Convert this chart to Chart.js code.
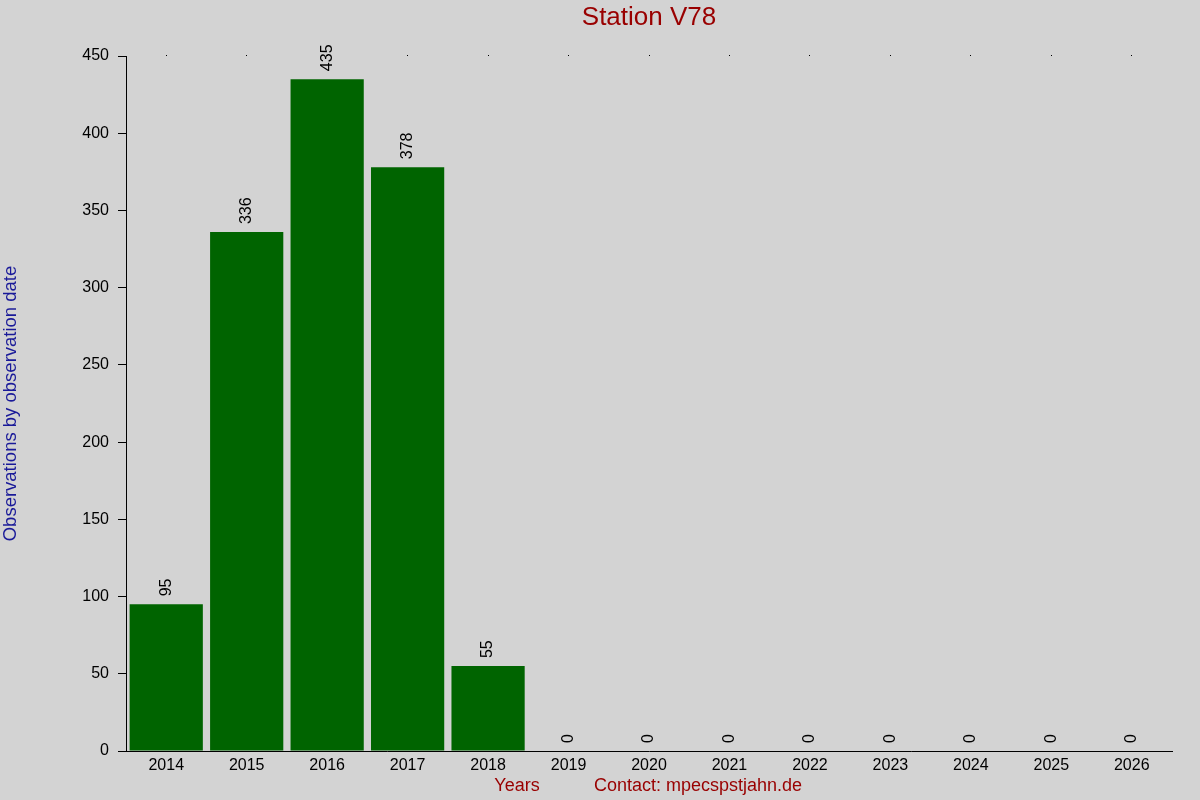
<!DOCTYPE html>
<html>
<head>
<meta charset="utf-8">
<title>Station V78</title>
<script src="https://cdn.jsdelivr.net/npm/chart.js@4"></script>
<style>
    html, body { margin: 0; padding: 0; background: #d3d3d3; }
    #wrap { width: 1200px; height: 800px; }
</style>
</head>
<body>
<div id="wrap"><canvas id="stationChart"></canvas></div>
<script>
// Chart data
const years = ['2014', '2015', '2016', '2017', '2018', '2019', '2020', '2021', '2022', '2023', '2024', '2025', '2026'];
const observations = [95, 336, 435, 378, 55, 0, 0, 0, 0, 0, 0, 0, 0];
const yTicks = [0, 50, 100, 150, 200, 250, 300, 350, 400, 450];

const chartTitle = 'Station V78';
const yTitle = 'Observations by observation date';
const xTitle = 'Years';
const contactText = 'Contact: mpecspstjahn.de';

const FONT = '"Liberation Sans", Arial, sans-serif';

// Background, titles and rotated value labels
const decorations = {
    id: 'decorations',
    beforeDraw(chart) {
        const { ctx, width, height } = chart;
        ctx.save();
        ctx.fillStyle = '#d3d3d3';
        ctx.fillRect(0, 0, width, height);
        ctx.restore();
    },
    afterDraw(chart) {
        const { ctx, chartArea } = chart;
        const midX = (chartArea.left + chartArea.right) / 2;
        const midY = (chartArea.top + chartArea.bottom) / 2;
        ctx.save();

        // Title
        ctx.fillStyle = '#990000';
        ctx.font = '26px ' + FONT;
        ctx.textAlign = 'center';
        ctx.textBaseline = 'middle';
        ctx.fillText(chartTitle, midX, 18);

        // Axis titles
        ctx.font = '18px ' + FONT;
        ctx.fillText(xTitle, 517, 786);
        ctx.fillText(contactText, 698, 786);

        ctx.fillStyle = '#1a1a99';
        ctx.font = '18.5px ' + FONT;
        ctx.translate(11, midY);
        ctx.rotate(-Math.PI / 2);
        ctx.fillText(yTitle, 0, 0);
        ctx.restore();

        // Value labels above the bars
        const meta = chart.getDatasetMeta(0);
        ctx.save();
        ctx.fillStyle = '#000000';
        ctx.font = '16px ' + FONT;
        ctx.textAlign = 'left';
        ctx.textBaseline = 'middle';
        meta.data.forEach((bar, i) => {
            ctx.save();
            ctx.translate(bar.x, bar.y - 8);
            ctx.rotate(-Math.PI / 2);
            ctx.fillText(String(observations[i]), 0, 0);
            ctx.restore();
        });
        ctx.restore();
    }
};

new Chart(document.getElementById('stationChart'), {
    type: 'bar',
    data: {
        labels: years,
        datasets: [{
            label: 'Observations',
            data: observations,
            backgroundColor: '#006400',
            borderWidth: 0,
            barPercentage: 0.91,
            categoryPercentage: 1.0
        }]
    },
    options: {
        responsive: true,
        maintainAspectRatio: false,
        animation: false,
        layout: {
            padding: { top: 55, right: 28, left: 0, bottom: 0 }
        },
        plugins: {
            legend: { display: false },
            tooltip: { enabled: false },
            title: { display: false }
        },
        scales: {
            x: {
                position: 'bottom',
                grid: { display: false, tickLength: 0 },
                border: { display: true, color: '#000000', width: 1 },
                ticks: {
                    color: '#000000',
                    font: { family: FONT, size: 16 },
                    padding: 5,
                    maxRotation: 0,
                    autoSkip: false
                },
                afterFit(scale) { scale.height = 49; }
            },
            xTop: {
                type: 'category',
                labels: years,
                position: 'top',
                grid: {
                    display: true,
                    offset: false,
                    drawOnChartArea: false,
                    drawTicks: true,
                    tickLength: 1,
                    color: '#000000'
                },
                border: { display: false },
                ticks: { display: false },
                afterFit(scale) { scale.height = 1; }
            },
            y: {
                min: 0,
                max: 450,
                afterBuildTicks(scale) {
                    scale.ticks = yTicks.map(v => ({ value: v }));
                },
                grid: {
                    display: true,
                    drawOnChartArea: false,
                    drawTicks: true,
                    tickLength: 8,
                    color: '#000000'
                },
                border: { display: true, color: '#000000', width: 1 },
                ticks: {
                    color: '#000000',
                    font: { family: FONT, size: 16 },
                    padding: 9
                },
                afterFit(scale) { scale.width = 126; }
            }
        }
    },
    plugins: [decorations]
});
</script>
</body>
</html>
